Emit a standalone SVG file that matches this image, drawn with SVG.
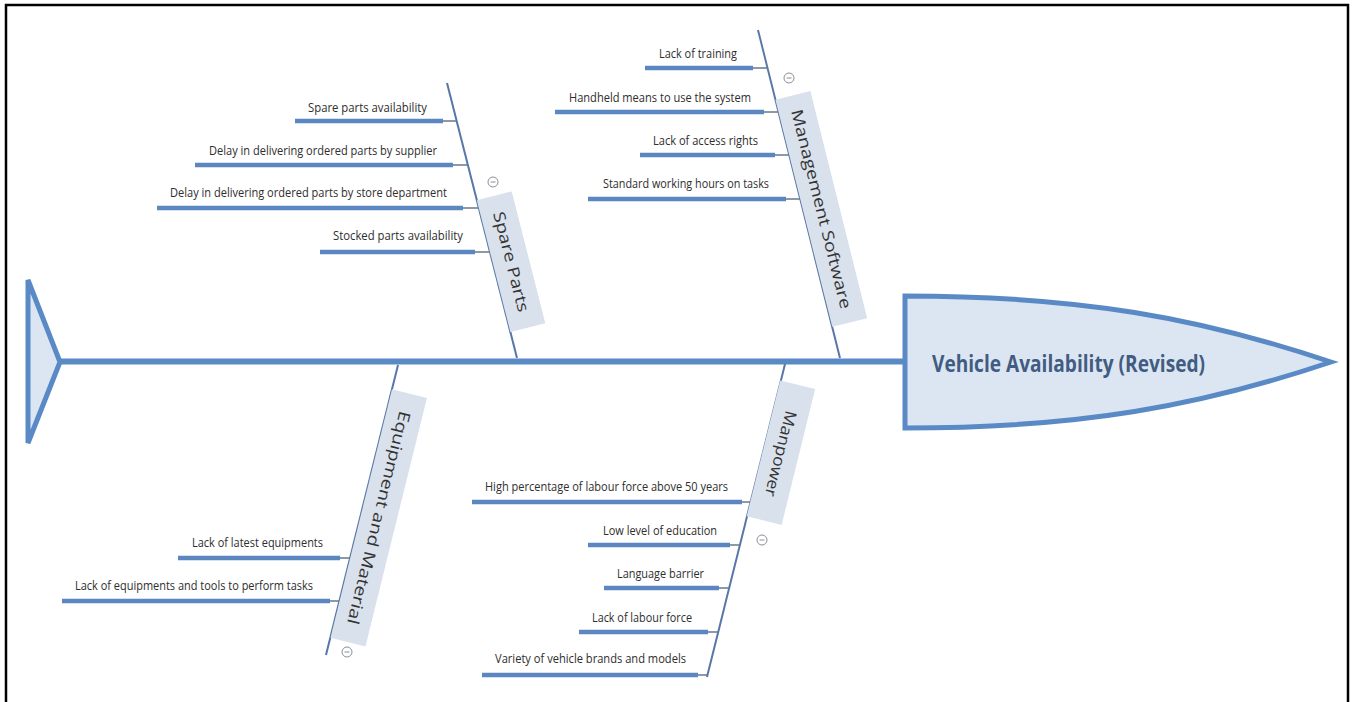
<svg xmlns="http://www.w3.org/2000/svg" width="1353" height="702" viewBox="0 0 1353 702">
<style>
.frame{fill:none;stroke:#000;stroke-width:2.5}
.spine{stroke:#5a8ac6;stroke-width:6;fill:none}
.shape{fill:#dce6f2;stroke:#5a8ac6;stroke-width:5;stroke-linejoin:miter}
.diag{stroke:#5877a6;stroke-width:2;fill:none}
.sub{stroke:#5b86c0;stroke-width:4.5;fill:none}
.thin{stroke:#66778a;stroke-width:1.5;fill:none}
.box{fill:#d9e1ec}
.lbl{font-family:"Open Sans","DejaVu Sans",sans-serif;font-size:13px;fill:#2e2e2e}
.cat{font-family:"Open Sans","DejaVu Sans",sans-serif;font-size:16px;fill:#333}
.head{font-family:"Open Sans","DejaVu Sans",sans-serif;font-size:23px;font-weight:bold;fill:#415c82}
.col{fill:#fff;stroke:#8a8f96;stroke-width:1}
.colm{stroke:#8a8f96;stroke-width:1}
</style>
<path class="frame" d="M6,702 L6,5 L1348,5 L1348,702"/>
<g id="connectors">
<line class="spine" x1="60" y1="361.5" x2="905" y2="361.5"/>
<line class="diag" x1="447" y1="83" x2="517" y2="358"/>
<line class="diag" x1="758" y1="30" x2="840" y2="358"/>
<line class="diag" x1="398" y1="365" x2="326" y2="655"/>
<line class="diag" x1="785" y1="364" x2="707" y2="677"/>
<!-- spare parts -->
<line class="sub" x1="295" y1="121" x2="443" y2="121"/><line class="thin" x1="443" y1="121" x2="456" y2="121"/>
<line class="sub" x1="195" y1="165" x2="453" y2="165"/><line class="thin" x1="453" y1="165" x2="467" y2="165"/>
<line class="sub" x1="157" y1="208" x2="463" y2="208"/><line class="thin" x1="463" y1="208" x2="478" y2="208"/>
<line class="sub" x1="320" y1="252" x2="475" y2="252"/><line class="thin" x1="475" y1="252" x2="490" y2="252"/>
<!-- management software -->
<line class="sub" x1="645" y1="68" x2="753" y2="68"/><line class="thin" x1="753" y1="68" x2="767" y2="68"/>
<line class="sub" x1="555" y1="112" x2="764" y2="112"/><line class="thin" x1="764" y1="112" x2="778" y2="112"/>
<line class="sub" x1="640" y1="155" x2="775" y2="155"/><line class="thin" x1="775" y1="155" x2="789" y2="155"/>
<line class="sub" x1="588" y1="199" x2="786" y2="199"/><line class="thin" x1="786" y1="199" x2="800" y2="199"/>
<!-- equipment -->
<line class="sub" x1="178" y1="558" x2="340" y2="558"/><line class="thin" x1="340" y1="558" x2="350" y2="558"/>
<line class="sub" x1="62" y1="601" x2="330" y2="601"/><line class="thin" x1="330" y1="601" x2="339" y2="601"/>
<!-- manpower -->
<line class="sub" x1="472" y1="502" x2="742" y2="502"/><line class="thin" x1="742" y1="502" x2="751" y2="502"/>
<line class="sub" x1="588" y1="545" x2="730" y2="545"/><line class="thin" x1="730" y1="545" x2="740" y2="545"/>
<line class="sub" x1="604" y1="588" x2="719" y2="588"/><line class="thin" x1="719" y1="588" x2="729" y2="588"/>
<line class="sub" x1="579" y1="632" x2="708" y2="632"/><line class="thin" x1="708" y1="632" x2="718" y2="632"/>
<line class="sub" x1="482" y1="675" x2="698" y2="675"/><line class="thin" x1="698" y1="675" x2="707" y2="675"/>
</g>
<g id="tail"><polygon class="shape" points="28,280 60,362 28,443"/></g>
<g id="head">
<path class="shape" d="M905,296 C1080,296 1200,318 1331,362 C1200,406 1080,428 905,428 Z"/>
<text class="head" x="932" y="372" textLength="273" lengthAdjust="spacingAndGlyphs">Vehicle Availability (Revised)</text>
</g>
<g id="spare-parts">
<g transform="translate(447,83) rotate(75.72)">
<rect class="box" x="121" y="-36" width="136" height="36"/>
<text class="cat" x="189" y="-12.5" text-anchor="middle" textLength="103" lengthAdjust="spacingAndGlyphs">Spare Parts</text>
</g>
<circle class="col" cx="493" cy="182" r="5"/><line class="colm" x1="490.5" y1="182" x2="495.5" y2="182"/>
<text class="lbl" x="308" y="112" textLength="119" lengthAdjust="spacingAndGlyphs">Spare parts availability</text>
<text class="lbl" x="209" y="155" textLength="228" lengthAdjust="spacingAndGlyphs">Delay in delivering ordered parts by supplier</text>
<text class="lbl" x="170" y="197" textLength="277" lengthAdjust="spacingAndGlyphs">Delay in delivering ordered parts by store department</text>
<text class="lbl" x="333" y="240" textLength="130" lengthAdjust="spacingAndGlyphs">Stocked parts availability</text>
</g>
<g id="management-software">
<g transform="translate(758,30) rotate(75.96)">
<rect class="box" x="72" y="-36" width="234" height="36"/>
<text class="cat" x="189" y="-12.5" text-anchor="middle" textLength="205" lengthAdjust="spacingAndGlyphs">Management Software</text>
</g>
<circle class="col" cx="789" cy="78" r="5"/><line class="colm" x1="786.5" y1="78" x2="791.5" y2="78"/>
<text class="lbl" x="659" y="58" textLength="78" lengthAdjust="spacingAndGlyphs">Lack of training</text>
<text class="lbl" x="569" y="102" textLength="182" lengthAdjust="spacingAndGlyphs">Handheld means to use the system</text>
<text class="lbl" x="653" y="145" textLength="105" lengthAdjust="spacingAndGlyphs">Lack of access rights</text>
<text class="lbl" x="603" y="188" textLength="166" lengthAdjust="spacingAndGlyphs">Standard working hours on tasks</text>
</g>
<g id="equipment-material">
<g transform="translate(398,365) rotate(103.9)">
<rect class="box" x="25" y="-36" width="256" height="36"/>
<text class="cat" x="153" y="-12.5" text-anchor="middle" textLength="219" lengthAdjust="spacingAndGlyphs">Equipment and Material</text>
</g>
<circle class="col" cx="347" cy="652" r="5"/><line class="colm" x1="344.5" y1="652" x2="349.5" y2="652"/>
<text class="lbl" x="192" y="547" textLength="131" lengthAdjust="spacingAndGlyphs">Lack of latest equipments</text>
<text class="lbl" x="75" y="590" textLength="238" lengthAdjust="spacingAndGlyphs">Lack of equipments and tools to perform tasks</text>
</g>
<g id="manpower">
<g transform="translate(785,361) rotate(103.86)">
<rect class="box" x="20" y="-36" width="140" height="36"/>
<text class="cat" x="91" y="-12.5" text-anchor="middle" textLength="88" lengthAdjust="spacingAndGlyphs">Manpower</text>
</g>
<circle class="col" cx="762" cy="540" r="5"/><line class="colm" x1="759.5" y1="540" x2="764.5" y2="540"/>
<text class="lbl" x="485" y="491" textLength="243" lengthAdjust="spacingAndGlyphs">High percentage of labour force above 50 years</text>
<text class="lbl" x="603" y="535" textLength="114" lengthAdjust="spacingAndGlyphs">Low level of education</text>
<text class="lbl" x="617" y="578" textLength="87" lengthAdjust="spacingAndGlyphs">Language barrier</text>
<text class="lbl" x="592" y="622" textLength="100" lengthAdjust="spacingAndGlyphs">Lack of labour force</text>
<text class="lbl" x="495" y="663" textLength="191" lengthAdjust="spacingAndGlyphs">Variety of vehicle brands and models</text>
</g>
</svg>
